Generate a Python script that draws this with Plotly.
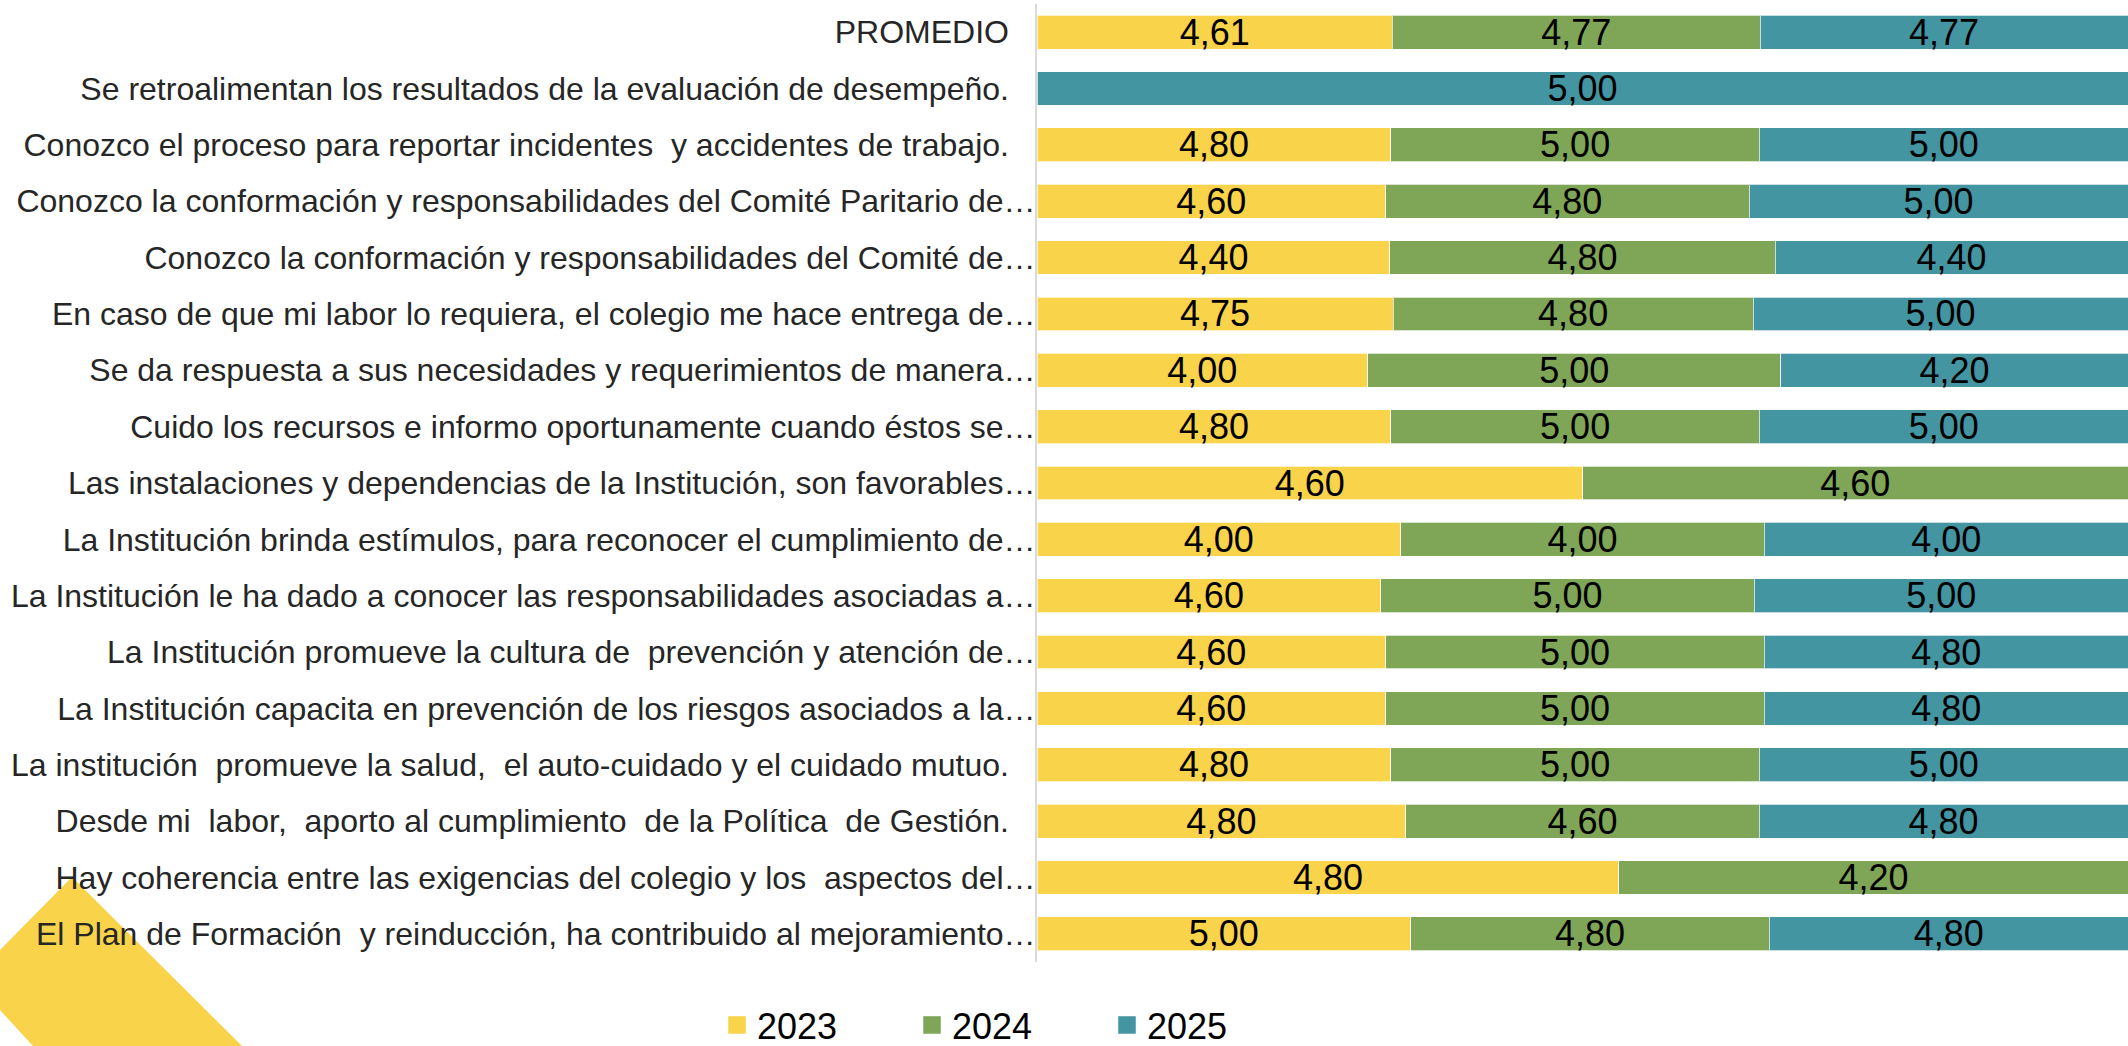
import plotly.graph_objects as go

NB = "\u00a0"

# Survey statements, top to bottom
categories = [
    "PROMEDIO" + NB * 3,
    "Se retroalimentan los resultados de la evaluación de desempeño." + NB * 3,
    "Conozco el proceso para reportar incidentes " + NB + "y accidentes de trabajo." + NB * 3,
    "Conozco la conformación y responsabilidades del Comité Paritario de…",
    "Conozco la conformación y responsabilidades del Comité de…",
    "En caso de que mi labor lo requiera, el colegio me hace entrega de…",
    "Se da respuesta a sus necesidades y requerimientos de manera…",
    "Cuido los recursos e informo oportunamente cuando éstos se…",
    "Las instalaciones y dependencias de la Institución, son favorables…",
    "La Institución brinda estímulos, para reconocer el cumplimiento de…",
    "La Institución le ha dado a conocer las responsabilidades asociadas a…",
    "La Institución promueve la cultura de " + NB + "prevención y atención de…",
    "La Institución capacita en prevención de los riesgos asociados a la…",
    "La institución " + NB + "promueve la salud, " + NB + "el auto-cuidado y el cuidado mutuo." + NB * 3,
    "Desde mi " + NB + "labor, " + NB + "aporto al cumplimiento " + NB + "de la Política " + NB + "de Gestión." + NB * 3,
    "Hay coherencia entre las exigencias del colegio y los " + NB + "aspectos del…",
    "El Plan de Formación " + NB + "y reinducción, ha contribuido al mejoramiento…",
]

years = ["2023", "2024", "2025"]

values_2023 = [4.61, None, 4.80, 4.60, 4.40, 4.75, 4.00, 4.80, 4.60, 4.00, 4.60, 4.60, 4.60, 4.80, 4.80, 4.80, 5.00]
values_2024 = [4.77, None, 5.00, 4.80, 4.80, 4.80, 5.00, 5.00, 4.60, 4.00, 5.00, 5.00, 5.00, 5.00, 4.60, 4.20, 4.80]
values_2025 = [4.77, 5.00, 5.00, 5.00, 4.40, 5.00, 4.20, 5.00, None, 4.00, 5.00, 4.80, 4.80, 5.00, 4.80, None, 4.80]

series = [values_2023, values_2024, values_2025]
colors = ["#F9D349", "#7FA557", "#4495A2"]

FONT = "Liberation Sans, Arial, sans-serif"

# Plot-area geometry in pixels
W, H = 2128, 1046
L, R, T, B = 1037, 0, 4, 84
PW, PH = W - L - R, H - T - B


def to_paper(px, py):
    return (px - L) / PW, (H - B - py) / PH


def fmt(v):
    return "" if v is None else f"{v:.2f}".replace(".", ",")


fig = go.Figure()

for name, vals, col in zip(years, series, colors):
    fig.add_trace(go.Bar(
        y=categories,
        x=vals,
        orientation="h",
        name=name,
        marker=dict(color=col, line=dict(color="rgba(255,255,255,0.7)", width=1)),
        text=[fmt(v) for v in vals],
        texttemplate="%{text}",
        textposition="inside",
        insidetextanchor="middle",
        textangle=0,
        constraintext="none",
        textfont=dict(family=FONT, size=36, color="#000000"),
        showlegend=False,
        hoverinfo="skip",
    ))

# Legend entries with larger square swatches
for name, col in zip(years, colors):
    fig.add_trace(go.Scatter(
        x=[None], y=[None],
        mode="markers",
        name=name,
        marker=dict(symbol="square", size=16, color=col, line=dict(color=col, width=1.5)),
        showlegend=True,
    ))

# Decorative yellow corner shape
corner = [(72, 877), (242, 1046), (33, 1046), (0, 1010), (0, 950)]
pts = [to_paper(x, y) for x, y in corner]
path = "M " + " L ".join(f"{x:.5f},{y:.5f}" for x, y in pts) + " Z"

fig.add_shape(
    type="path", path=path, xref="paper", yref="paper",
    fillcolor="#F9D349", line=dict(width=0), layer="below",
)

fig.update_layout(
    width=W, height=H, autosize=False,
    margin=dict(l=L, r=R, t=T, b=B, pad=0),
    barmode="stack",
    barnorm="percent",
    bargap=0.40,
    plot_bgcolor="white",
    paper_bgcolor="white",
    font=dict(family=FONT, color="#000000"),
    legend=dict(
        orientation="h",
        traceorder="normal",
        xref="container", yref="container",
        x=(717 / W), xanchor="left",
        y=(H - 1025) / H, yanchor="middle",
        font=dict(family=FONT, size=36, color="#000000"),
        entrywidth=150,
        bgcolor="rgba(0,0,0,0)",
    ),
    xaxis=dict(
        range=[0, 100], visible=False, fixedrange=True,
    ),
    yaxis=dict(
        autorange="reversed",
        showline=True, linecolor="#D9D9D9", linewidth=2,
        ticks="", showgrid=False, zeroline=False,
        tickfont=dict(family=FONT, size=32, color="#262626"),
        ticklabelstandoff=-7,
    ),
)

fig.write_html("out.html")
